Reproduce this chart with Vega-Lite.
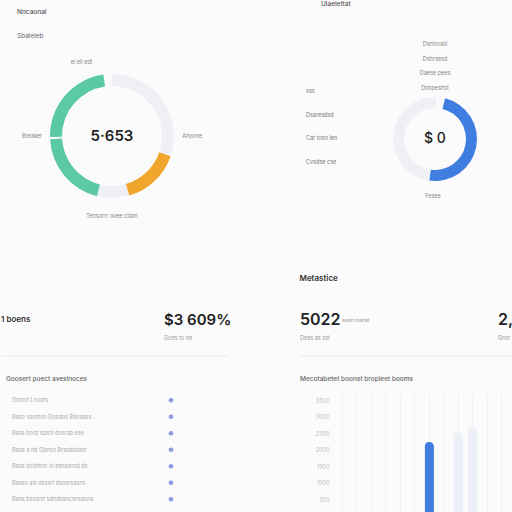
{
  "$schema": "https://vega.github.io/schema/vega-lite/v6.json",
  "padding": 0,
  "background": "#fbfbfb",
  "config": {
    "view": {"stroke": null},
    "font": "Inter",
    "title": {"font": "Inter", "subtitleFont": "Inter"}
  },
  "datasets": {
    "tlDonut": [
      {"segment": "Other", "value": 109, "rank": 1},
      {"segment": "Referral", "value": 55, "rank": 2},
      {"segment": "Other", "value": 30, "rank": 3},
      {"segment": "Direct", "value": 73, "rank": 4},
      {"segment": "None", "value": 2, "rank": 5},
      {"segment": "Direct", "value": 83, "rank": 6},
      {"segment": "None", "value": 8, "rank": 7}
    ],
    "tlCenter": [{"total": "5·653"}],
    "tlLabels": [
      {"label": "", "share": 45, "rank": 1},
      {"label": "Anyone", "share": 90, "rank": 2},
      {"label": "Tensorrr ovee cliam", "share": 90, "rank": 3},
      {"label": "Breaker", "share": 90, "rank": 4},
      {"label": "ei eli edl", "share": 45, "rank": 5}
    ],
    "trDonut": [
      {"segment": "None", "value": 12, "rank": 1},
      {"segment": "Paid", "value": 174, "rank": 2},
      {"segment": "Other", "value": 174, "rank": 3}
    ],
    "trCenter": [{"total": "$ 0"}],
    "trBottom": [{"label": "Fesee", "share": 360}],
    "trTop": [
      {"label": "Dsntroasl"},
      {"label": "Dshrsesd"},
      {"label": "Daese pees"},
      {"label": "Dimpesltst"}
    ],
    "trLeft": [
      {"label": "sss"},
      {"label": "Dsaresdsd"},
      {"label": "Car toso leo"},
      {"label": "Cvsdse cse"}
    ],
    "blLabel": [{"part": "label", "kind": "main", "text": "1 boens"}],
    "blValue": [{"part": "value", "kind": "main", "text": "$3 609%"}],
    "blNote": [{"part": "value", "kind": "note", "text": "Goes to ne"}],
    "blList": [
      {"item": "Gnnlot Lnoots", "status": 1},
      {"item": "Baso ssoston Dosdos Bsoaass", "status": 1},
      {"item": "Basa bord sbsnl dosrsb ese", "status": 1},
      {"item": "Basa a nd Gbnso Brssdsdasr", "status": 1},
      {"item": "Basa boshton ol asnasnsd ds", "status": 1},
      {"item": "Basso asl dsssrt dsosrsasns", "status": 1},
      {"item": "Basa bsssrst sdndssncsnsasna", "status": 1},
      {"item": "Basa sd ab dnsdosn ss", "status": 1}
    ],
    "brValue": [
      {"metric": "a", "kind": "main", "text": "5022"},
      {"metric": "b", "kind": "main", "text": "2,418"}
    ],
    "brUnit": [{"metric": "a", "kind": "main", "text": "assit roanet"}],
    "brNote": [
      {"metric": "a", "kind": "note", "text": "Deas as sst"},
      {"metric": "b", "kind": "note", "text": "Gnsr"}
    ],
    "brBars": [
      {"month": "Jul", "amount": 2240, "series": "Actual"},
      {"month": "Sep", "amount": 2540, "series": "Forecast"},
      {"month": "Oct", "amount": 2690, "series": "Forecast"}
    ]
  },
  "vconcat": [
    {
      "hconcat": [
        {
          "width": 222,
          "height": 182,
          "title": {"text": "Nncaonal", "subtitle": "Sbaleleb", "anchor": "start", "dx": 16, "fontSize": 6.5, "fontWeight": 500, "color": "#555", "subtitleFontSize": 6.5, "subtitleColor": "#666", "subtitlePadding": 17, "offset": 6},
          "layer": [
            {
              "data": {"name": "tlDonut"},
              "mark": {"type": "arc", "innerRadius": 50, "outerRadius": 62},
              "encoding": {
                "theta": {"field": "value", "type": "quantitative", "stack": true},
                "order": {"field": "rank", "type": "quantitative"},
                "color": {"field": "segment", "type": "nominal", "legend": null,
                  "scale": {"domain": ["Direct", "Referral", "Other", "None", "Paid", "Actual", "Forecast"], "range": ["#5bc9a6", "#f0a52c", "#eff0f6", "rgba(0,0,0,0)", "#3f7ee0", "#3f7ee0", "#edf0f8"]}}
              }
            },
            {
              "data": {"name": "tlCenter"},
              "mark": {"type": "text", "fontSize": 15, "fontWeight": 600, "color": "#222"},
              "encoding": {"text": {"field": "total"}}
            },
            {
              "data": {"name": "tlLabels"},
              "mark": {"type": "text", "radius": 80, "fontSize": 5.5, "color": "#888"},
              "encoding": {
                "theta": {"field": "share", "type": "quantitative", "stack": true},
                "order": {"field": "rank", "type": "quantitative"},
                "text": {"field": "label"}
              }
            }
          ]
        },
        {
          "title": {"text": "Ulaelettat", "anchor": "start", "dx": 50, "fontSize": 6.5, "fontWeight": 500, "color": "#555", "offset": 35},
          "spacing": 0,
          "hconcat": [
            {
              "width": 70,
              "height": 180,
              "data": {"name": "trLeft"},
              "mark": {"type": "text", "align": "left", "fontSize": 5.5, "color": "#777"},
              "encoding": {
                "y": {"field": "label", "type": "nominal", "sort": null, "axis": null, "scale": {"type": "point", "range": [46, 117], "padding": 0}},
                "text": {"field": "label"}
              }
            },
            {
              "spacing": 0,
              "vconcat": [
                {
                  "width": 188,
                  "height": 52,
                  "data": {"name": "trTop"},
                  "mark": {"type": "text", "fontSize": 5.5, "color": "#888"},
                  "encoding": {
                    "y": {"field": "label", "type": "nominal", "sort": null, "axis": null, "scale": {"type": "point", "range": [-1, 43], "padding": 0}},
                    "text": {"field": "label"}
                  }
                },
                {
                  "width": 188,
                  "height": 84,
                  "layer": [
                    {
                      "data": {"name": "trDonut"},
                      "mark": {"type": "arc", "innerRadius": 31, "outerRadius": 42},
                      "encoding": {
                        "theta": {"field": "value", "type": "quantitative", "stack": true, "scale": {"range": [0.035, 6.318]}},
                        "order": {"field": "rank", "type": "quantitative"},
                        "color": {"field": "segment", "type": "nominal", "legend": null,
                          "scale": {"domain": ["Direct", "Referral", "Other", "None", "Paid", "Actual", "Forecast"], "range": ["#5bc9a6", "#f0a52c", "#eff0f6", "rgba(0,0,0,0)", "#3f7ee0", "#3f7ee0", "#edf0f8"]}}
                      }
                    },
                    {
                      "data": {"name": "trCenter"},
                      "mark": {"type": "text", "fontSize": 14, "fontWeight": 500, "color": "#222"},
                      "encoding": {"text": {"field": "total"}}
                    },
                    {
                      "data": {"name": "trBottom"},
                      "mark": {"type": "text", "radius": 57, "fontSize": 5.5, "color": "#888"},
                      "encoding": {
                        "theta": {"field": "share", "type": "quantitative", "stack": true},
                        "text": {"field": "label"}
                      }
                    }
                  ]
                }
              ]
            }
          ]
        }
      ],
      "spacing": 48
    },
    {
      "hconcat": [
        {
          "spacing": 18,
          "vconcat": [
            {
              "width": 228,
              "height": 65,
              "layer": [
                {
                  "data": {"name": "blNote"},
                  "mark": {"type": "rule", "color": "#ececec", "strokeWidth": 1},
                  "encoding": {"y": {"datum": "line", "type": "nominal", "axis": null}}
                },
                {
                  "data": {"name": "blLabel"},
                  "mark": {"type": "text", "align": "left", "fontSize": 8, "fontWeight": 600, "color": "#333"},
                  "encoding": {
                    "x": {"field": "part", "type": "nominal", "axis": null, "scale": {"type": "point", "domain": ["label", "value"], "range": [0, 163], "padding": 0}},
                    "y": {"field": "kind", "type": "nominal", "axis": null, "scale": {"type": "point", "domain": ["main", "note", "line"], "range": [29, 65], "padding": 0}},
                    "text": {"field": "text"}
                  }
                },
                {
                  "data": {"name": "blValue"},
                  "mark": {"type": "text", "align": "left", "fontSize": 15, "fontWeight": 600, "color": "#222"},
                  "encoding": {
                    "x": {"field": "part", "type": "nominal", "axis": null},
                    "y": {"field": "kind", "type": "nominal", "axis": null},
                    "text": {"field": "text"}
                  }
                },
                {
                  "data": {"name": "blNote"},
                  "mark": {"type": "text", "align": "left", "fontSize": 5.5, "color": "#999"},
                  "encoding": {
                    "x": {"field": "part", "type": "nominal", "axis": null},
                    "y": {"field": "kind", "type": "nominal", "axis": null},
                    "text": {"field": "text"}
                  }
                }
              ]
            },
            {
              "width": 170,
              "height": 132,
              "title": {"text": "Goosert puect aveslnoces", "anchor": "start", "dx": 5, "fontSize": 6.5, "fontWeight": 500, "color": "#666", "offset": 10},
              "data": {"name": "blList"},
              "encoding": {
                "y": {"field": "item", "type": "nominal", "sort": null, "axis": null}
              },
              "layer": [
                {
                  "mark": {"type": "text", "align": "left", "dx": 11, "fontSize": 5.5, "color": "#aaa"},
                  "encoding": {
                    "x": {"datum": 0, "type": "quantitative", "axis": null},
                    "text": {"field": "item"}
                  }
                },
                {
                  "mark": {"type": "point", "filled": true, "size": 22, "color": "#8a9be0", "opacity": 1},
                  "encoding": {
                    "x": {"field": "status", "type": "quantitative", "axis": null, "scale": {"domain": [0, 1]}}
                  }
                }
              ]
            }
          ]
        },
        {
          "spacing": 18,
          "vconcat": [
            {
              "width": 212,
              "height": 65,
              "title": {"text": "Metastice", "anchor": "start", "fontSize": 8, "fontWeight": 600, "color": "#333", "offset": 8},
              "layer": [
                {
                  "data": {"name": "brUnit"},
                  "mark": {"type": "rule", "color": "#ececec", "strokeWidth": 1},
                  "encoding": {"y": {"datum": "line", "type": "nominal", "axis": null}}
                },
                {
                  "data": {"name": "brValue"},
                  "mark": {"type": "text", "align": "left", "fontSize": 16, "fontWeight": 600, "color": "#222"},
                  "encoding": {
                    "x": {"field": "metric", "type": "nominal", "axis": null, "scale": {"type": "point", "domain": ["a", "b"], "range": [0, 198], "padding": 0}},
                    "y": {"field": "kind", "type": "nominal", "axis": null, "scale": {"type": "point", "domain": ["main", "note", "line"], "range": [29, 65], "padding": 0}},
                    "text": {"field": "text"}
                  }
                },
                {
                  "data": {"name": "brUnit"},
                  "mark": {"type": "text", "align": "left", "dx": 42, "fontSize": 5, "color": "#999"},
                  "encoding": {
                    "x": {"field": "metric", "type": "nominal", "axis": null},
                    "y": {"field": "kind", "type": "nominal", "axis": null},
                    "text": {"field": "text"}
                  }
                },
                {
                  "data": {"name": "brNote"},
                  "mark": {"type": "text", "align": "left", "fontSize": 5.5, "color": "#999"},
                  "encoding": {
                    "x": {"field": "metric", "type": "nominal", "axis": null},
                    "y": {"field": "kind", "type": "nominal", "axis": null},
                    "text": {"field": "text"}
                  }
                }
              ]
            },
            {
              "width": 212,
              "height": 124,
              "title": {"text": "Mecotabetet boonst bropleet booms", "anchor": "start", "fontSize": 6.5, "fontWeight": 500, "color": "#666", "offset": 10},
              "data": {"name": "brBars"},
              "mark": {"type": "bar", "cornerRadiusTopLeft": 5, "cornerRadiusTopRight": 5},
              "encoding": {
                "x": {"field": "month", "type": "ordinal",
                  "scale": {"domain": ["Jan", "Feb", "Mar", "Apr", "May", "Jun", "Jul", "Aug", "Sep", "Oct", "Nov", "Dec"], "range": [35, 209], "paddingInner": 0.35},
                  "axis": {"labels": false, "ticks": false, "domain": false, "title": null, "grid": true, "gridColor": "#f2f2f6"}},
                "y": {"field": "amount", "type": "quantitative",
                  "scale": {"domain": [0, 3750], "nice": false},
                  "axis": {"values": [500, 1000, 1500, 2000, 2500, 3000, 3500], "format": "d", "title": null, "ticks": false, "domain": false, "grid": false, "labelFontSize": 5.5, "labelColor": "#bbb", "labelPadding": -29}},
                "color": {"field": "series", "type": "nominal", "legend": null,
                  "scale": {"domain": ["Direct", "Referral", "Other", "None", "Paid", "Actual", "Forecast"], "range": ["#5bc9a6", "#f0a52c", "#eff0f6", "rgba(0,0,0,0)", "#3f7ee0", "#3f7ee0", "#edf0f8"]}}
              }
            }
          ]
        }
      ],
      "spacing": 67
    }
  ],
  "spacing": 48
}
